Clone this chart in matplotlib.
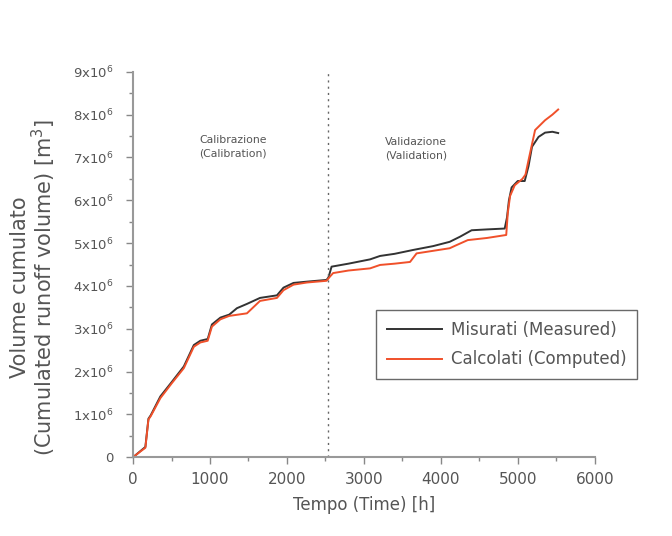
import matplotlib
matplotlib.use("Agg")
import matplotlib.pyplot as plt
import matplotlib.ticker as mticker

# Measured cumulative runoff volume (x in hours, y in 10^6 m3)
measured_t = [0, 100, 160, 200, 230, 355, 500, 660, 790, 875, 970, 1025, 1135,
              1250, 1350, 1480, 1650, 1870, 1955, 2085, 2260, 2515, 2540, 2580,
              2800, 3080, 3210, 3400, 3640, 3900, 4115, 4250, 4400, 4600, 4830,
              4860, 4885, 4920, 5000, 5090, 5140, 5185, 5270, 5355, 5450, 5525]
measured_v = [0, 0.15, 0.24, 0.9, 0.98, 1.42, 1.75, 2.12, 2.62, 2.72, 2.76, 3.1,
              3.26, 3.33, 3.48, 3.58, 3.72, 3.78, 3.96, 4.07, 4.1, 4.14, 4.2,
              4.45, 4.52, 4.62, 4.7, 4.75, 4.84, 4.93, 5.03, 5.15, 5.3, 5.32,
              5.34, 5.6, 6.0, 6.3, 6.45, 6.45, 6.8, 7.25, 7.48, 7.58, 7.6, 7.57]

# Computed cumulative runoff volume
computed_t = [0, 100, 160, 200, 230, 355, 500, 660, 790, 875, 970, 1025, 1135,
              1250, 1480, 1650, 1870, 1955, 2085, 2260, 2515, 2560, 2600, 2800,
              3080, 3210, 3400, 3600, 3685, 3900, 4115, 4200, 4350, 4600, 4850,
              4870, 4900, 4960, 5060, 5100, 5140, 5225, 5355, 5450, 5525]
computed_v = [0, 0.14, 0.22, 0.88, 0.96, 1.38, 1.72, 2.08, 2.58, 2.68, 2.72,
              3.05, 3.22, 3.3, 3.36, 3.65, 3.72, 3.9, 4.03, 4.08, 4.12, 4.22,
              4.3, 4.36, 4.41, 4.49, 4.52, 4.56, 4.76, 4.82, 4.88, 4.95, 5.07,
              5.12, 5.19, 5.7, 6.1, 6.35, 6.5, 6.6, 6.94, 7.64, 7.87, 8.0, 8.12]

split_t = 2530
GRAY = "#555555"

plt.rcParams.update({
    "font.family": "DejaVu Sans",
    "text.color": GRAY,
    "xtick.color": GRAY,
    "ytick.color": GRAY,
    "axes.edgecolor": "#999999",
})

fig = plt.figure(figsize=(6.72, 5.36), dpi=100)
ax = fig.add_axes([0.198, 0.147, 0.687, 0.719])

ax.plot(measured_t, [v * 1e6 for v in measured_v], color="#333333", lw=1.4,
        label="Misurati (Measured)")
ax.plot(computed_t, [v * 1e6 for v in computed_v], color="#f0502a", lw=1.4,
        label="Calcolati (Computed)")
ax.axvline(split_t, color="#666666", ls=(0, (1.5, 3)), lw=1.0)

ax.set_xlim(0, 6000)
ax.set_ylim(0, 9e6)
ax.xaxis.set_major_locator(mticker.MultipleLocator(1000))
ax.xaxis.set_minor_locator(mticker.MultipleLocator(500))
ax.yaxis.set_major_locator(mticker.MultipleLocator(1e6))
ax.yaxis.set_minor_locator(mticker.MultipleLocator(0.5e6))


def _fmt(v, _):
    n = int(round(v / 1e6))
    return "0" if n == 0 else f"{n}x10$^6$"


ax.yaxis.set_major_formatter(mticker.FuncFormatter(_fmt))
ax.tick_params(which="major", length=5, width=1, color="#888888")
ax.tick_params(which="minor", length=3, width=1, color="#888888")
ax.tick_params(axis="x", which="major", labelsize=11, pad=6)
ax.tick_params(axis="y", which="major", labelsize=9.5, pad=9)
for side in ("top", "right"):
    ax.spines[side].set_visible(False)
for side in ("left", "bottom"):
    ax.spines[side].set_linewidth(1.5)

ax.set_xlabel("Tempo (Time) [h]", fontsize=12, color=GRAY, labelpad=6)
ax.set_ylabel("Volume cumulato\n(Cumulated runoff volume) [m$^3$]",
              fontsize=15, color=GRAY, linespacing=1.0)
ax.yaxis.set_label_coords(-0.163, 0.44)

ax.text(1295, 7.25e6, "Calibrazione\n(Calibration)", ha="center", va="center",
        fontsize=7.8, color=GRAY, linespacing=1.4)
ax.text(3680, 7.2e6, "Validazione\n(Validation)", ha="center", va="center",
        fontsize=7.8, color=GRAY, linespacing=1.4)

leg = ax.legend(loc="upper right", bbox_to_anchor=(637 / 672, 1 - 310 / 536),
                bbox_transform=fig.transFigure, fontsize=12, fancybox=False,
                frameon=True, borderpad=0.65, handlelength=3.3,
                handletextpad=0.5, labelspacing=0.7, borderaxespad=0)
leg.get_frame().set_edgecolor("#444444")
leg.get_frame().set_linewidth(1.0)

fig.savefig("out.png", dpi=100)
